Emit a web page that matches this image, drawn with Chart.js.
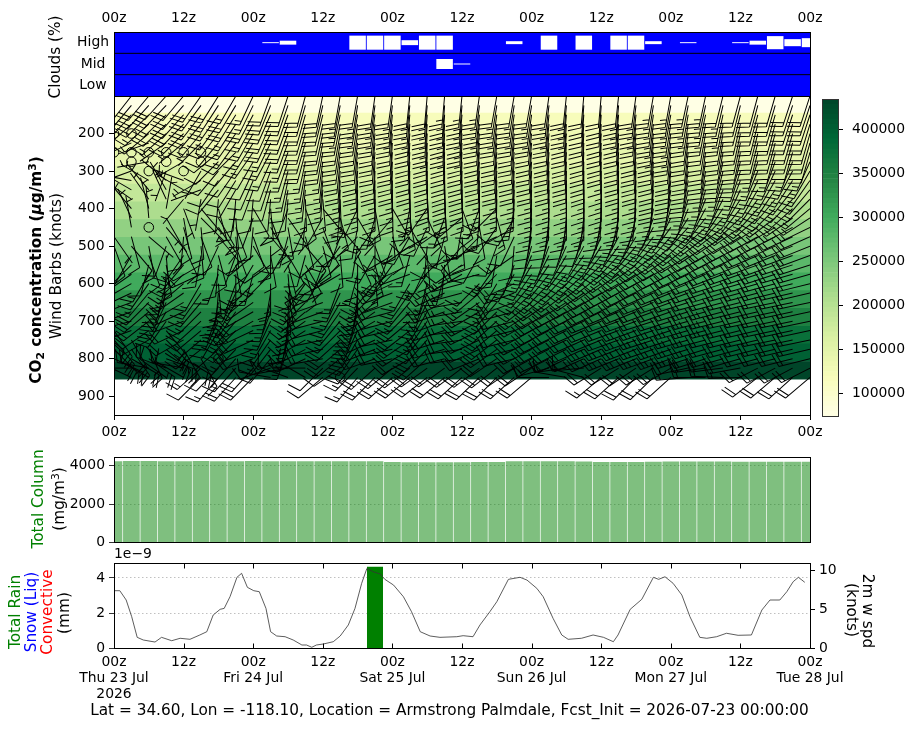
<!DOCTYPE html>
<html lang="en">
<head>
<meta charset="UTF-8">
<title>Meteogram - Armstrong Palmdale</title>
<script src="https://cdn.jsdelivr.net/npm/chart.js"></script>
<style>
  body { margin: 0; background: #fff; }
  #wrap { position: relative; width: 915px; height: 730px; font-family: "DejaVu Sans", sans-serif; color: #000; overflow: hidden; }
  #wrap canvas { position: absolute; }
  .yl, .yr { position: absolute; white-space: nowrap; font-size: 15.3px; line-height: 1; }
  .yl { transform: translate(-50%, -50%) rotate(-90deg); }
  .yr { transform: translate(-50%, -50%) rotate(90deg); }
  .sub { font-size: 70%; vertical-align: -0.25em; }
  .sup { font-size: 70%; vertical-align: 0.5em; }
  .tx { position: absolute; font-size: 13.9px; line-height: 1; white-space: nowrap; }
  .ft { position: absolute; left: 0; width: 899px; text-align: center; font-size: 15.3px; line-height: 1; white-space: nowrap; }
</style>
</head>
<body>
<div id="wrap">
  <canvas id="cClouds" width="915" height="100" style="left:0;top:0"></canvas>
  <canvas id="cMain" width="915" height="360" style="left:0;top:90px"></canvas>
  <canvas id="cBar" width="115" height="340" style="left:800px;top:90px"></canvas>
  <canvas id="cCol" width="915" height="100" style="left:0;top:450px"></canvas>
  <canvas id="cRain" width="915" height="160" style="left:0;top:550px"></canvas>

  <div class="yl" style="left:56px;top:57px">Clouds (%)</div>
  <div class="yl" style="left:37px;top:270px;font-weight:bold">CO<span class="sub">2</span> concentration (<i>μ</i>g/m<span class="sup">3</span>)</div>
  <div class="yl" style="left:57px;top:266px">Wind Barbs (knots)</div>
  <div class="yl" style="left:39px;top:499px;color:#008000">Total Column</div>
  <div class="yl" style="left:59px;top:499px">(mg/m<span class="sup">3</span>)</div>
  <div class="yl" style="left:16px;top:612px;color:#008000">Total Rain</div>
  <div class="yl" style="left:32px;top:612px;color:#0000ff">Snow (Liq)</div>
  <div class="yl" style="left:48px;top:612px;color:#ff0000">Convective</div>
  <div class="yl" style="left:65px;top:613px">(mm)</div>
  <div class="yr" style="left:867px;top:611px">2m w spd</div>
  <div class="yr" style="left:851px;top:610px">(knots)</div>
  <div class="tx" style="left:114px;top:547px">1e−9</div>
  <div class="ft" style="top:703px">Lat = 34.60, Lon = -118.10, Location = Armstrong Palmdale, Fcst_Init = 2026-07-23 00:00:00</div>
</div>

<script>
// ---------- data ----------
// hours since Fcst_Init (2026-07-23 00z), every 3 h
const hours = [0, 3, 6, 9, 12, 15, 18, 21, 24, 27, 30, 33, 36, 39, 42, 45, 48, 51, 54, 57, 60, 63, 66, 69, 72, 75, 78, 81, 84, 87, 90, 93, 96, 99, 102, 105, 108, 111, 114, 117, 120];
const timeTicks = [0, 12, 24, 36, 48, 60, 72, 84, 96, 108, 120];
const hourLabels = ['00z', '12z'];
const dayLabels = ['Thu 23 Jul', 'Fri 24 Jul', 'Sat 25 Jul', 'Sun 26 Jul', 'Mon 27 Jul', 'Tue 28 Jul'];
const yearLabel = '2026';
const cloudRows = ['Low', 'Mid', 'High'];
const presTicks = [200, 300, 400, 500, 600, 700, 800, 900];
const co2Ticks = [100000, 150000, 200000, 250000, 300000, 350000, 400000];
const colTicks = [0, 2000, 4000];
const rainTicks = [0, 2e-9, 4e-9];
const wspdTicks = [0, 5, 10];

// cloud fraction (%)
const cloudHigh = [0, 0, 0, 0, 0, 0, 0, 0, 0, 7, 28, 0, 0, 0, 100, 100, 100, 35, 100, 100, 0, 0, 0, 21, 0, 100, 0, 100, 0, 100, 100, 21, 0, 7, 0, 0, 7, 28, 93, 50, 64];
const cloudMid = [0, 0, 0, 0, 0, 0, 0, 0, 0, 0, 0, 0, 0, 0, 0, 0, 0, 0, 0, 71, 7, 0, 0, 0, 0, 0, 0, 0, 0, 0, 0, 0, 0, 0, 0, 0, 0, 0, 0, 0, 0];
const cloudLow = [0, 0, 0, 0, 0, 0, 0, 0, 0, 0, 0, 0, 0, 0, 0, 0, 0, 0, 0, 0, 0, 0, 0, 0, 0, 0, 0, 0, 0, 0, 0, 0, 0, 0, 0, 0, 0, 0, 0, 0, 0];

// CO2 concentration (ug/m3) by pressure band (hPa)
const co2Pres = [122, 169, 216, 264, 311, 358, 406, 453, 500, 548, 595, 642, 690, 737, 784, 831];
const co2Conc = [74000, 117000, 131000, 146000, 166000, 186000, 209000, 232000, 254000, 278000, 300000, 326000, 351000, 376000, 398000, 434000];

// wind barbs: direction (deg, from) and speed (knots) per level
const barbLevels = [100, 125, 150, 175, 200, 225, 250, 275, 300, 325, 350, 375, 400, 425, 450, 475, 500, 525, 550, 575, 600, 625, 650, 675, 700, 725, 750, 775, 800, 825, 850];
const dir100 = [215, 218, 220, 222, 220, 215, 212, 210, 205, 200, 198, 195, 192, 190, 190, 188, 188, 186, 185, 185, 186, 188, 190, 190, 190, 188, 186, 185, 185, 186, 188, 190, 190, 192, 192, 194, 195, 195, 196, 198, 198];
const spd100 = [18, 18, 20, 20, 20, 18, 18, 17, 17, 18, 18, 20, 20, 22, 22, 22, 22, 22, 22, 24, 24, 24, 22, 22, 22, 22, 22, 20, 20, 22, 22, 24, 24, 24, 24, 22, 22, 22, 20, 20, 20];
const dir125 = [218, 220, 222, 224, 221, 217, 213, 211, 206, 202, 199, 196, 193, 191, 189, 188, 187, 186, 185, 184, 185, 187, 189, 189, 189, 187, 185, 184, 184, 185, 187, 189, 190, 191, 192, 193, 194, 195, 196, 198, 198];
const spd125 = [19, 19, 21, 21, 20, 19, 18, 18, 17, 19, 19, 21, 21, 23, 23, 23, 23, 23, 24, 24, 24, 24, 23, 23, 23, 23, 23, 21, 21, 23, 23, 24, 24, 24, 24, 23, 22, 22, 21, 20, 20];
const dir150 = [220, 222, 225, 225, 222, 218, 215, 212, 208, 204, 200, 196, 194, 192, 190, 188, 186, 185, 184, 184, 185, 186, 188, 188, 188, 186, 185, 184, 184, 185, 186, 188, 190, 190, 192, 192, 194, 195, 196, 198, 198];
const spd150 = [20, 20, 22, 22, 20, 20, 18, 18, 18, 20, 20, 22, 22, 24, 24, 24, 24, 24, 25, 25, 25, 24, 24, 24, 24, 24, 24, 22, 22, 24, 24, 25, 25, 24, 24, 24, 22, 22, 22, 20, 20];
const dir175 = [226, 228, 228, 226, 224, 220, 216, 213, 209, 204, 200, 196, 193, 191, 189, 187, 186, 184, 184, 183, 184, 186, 187, 187, 187, 186, 184, 184, 183, 184, 186, 187, 189, 189, 191, 191, 193, 194, 195, 197, 197];
const spd175 = [10, 12, 16, 18, 18, 18, 17, 17, 17, 19, 19, 21, 21, 23, 23, 23, 23, 23, 24, 24, 24, 23, 23, 23, 23, 23, 23, 22, 21, 23, 23, 24, 24, 23, 23, 23, 22, 21, 21, 20, 20];
const dir200 = [0, 0, 230, 228, 225, 220, 218, 215, 210, 205, 200, 196, 192, 190, 188, 186, 185, 184, 183, 183, 184, 185, 186, 186, 186, 185, 184, 183, 183, 184, 185, 186, 188, 188, 190, 190, 192, 194, 195, 196, 196];
const spd200 = [1, 1, 12, 14, 15, 15, 16, 16, 16, 18, 18, 20, 20, 22, 22, 22, 22, 22, 24, 24, 24, 22, 22, 22, 22, 22, 22, 22, 20, 22, 22, 24, 24, 22, 22, 22, 22, 20, 20, 20, 20];
const dir225 = [240, 245, 250, 235, 230, 225, 220, 216, 212, 206, 200, 196, 191, 189, 187, 186, 184, 183, 182, 182, 183, 184, 185, 186, 185, 184, 183, 182, 182, 183, 184, 185, 187, 188, 189, 190, 192, 194, 195, 196, 196];
const spd225 = [4, 5, 6, 6, 5, 6, 10, 14, 15, 16, 17, 19, 19, 21, 21, 21, 21, 21, 23, 23, 23, 21, 21, 21, 21, 21, 21, 21, 19, 21, 21, 23, 23, 21, 21, 21, 21, 19, 19, 19, 19];
const dir250 = [0, 0, 0, 0, 0, 0, 230, 225, 215, 208, 200, 195, 190, 188, 186, 185, 184, 183, 182, 182, 183, 184, 185, 185, 185, 184, 183, 182, 182, 183, 184, 185, 186, 187, 188, 190, 192, 194, 195, 196, 196];
const spd250 = [1, 1, 1, 1, 1, 1, 8, 12, 14, 15, 16, 18, 18, 20, 20, 20, 20, 20, 22, 22, 22, 20, 20, 20, 20, 20, 20, 20, 18, 20, 20, 22, 22, 20, 20, 20, 20, 18, 18, 18, 18];
const dir275 = [250, 0, 260, 0, 240, 0, 225, 220, 210, 204, 198, 192, 188, 186, 184, 183, 183, 182, 181, 181, 182, 183, 184, 184, 184, 183, 182, 181, 181, 182, 183, 184, 185, 187, 189, 192, 195, 198, 200, 202, 204];
const spd275 = [4, 2, 5, 1, 5, 2, 8, 11, 12, 14, 15, 16, 17, 19, 19, 19, 19, 19, 21, 21, 21, 19, 19, 19, 19, 19, 19, 19, 17, 19, 19, 21, 21, 20, 19, 19, 19, 17, 17, 17, 17];
const dir300 = [240, 250, 0, 200, 0, 210, 220, 215, 205, 200, 195, 190, 186, 184, 183, 182, 182, 181, 180, 180, 181, 182, 183, 183, 183, 182, 181, 180, 180, 181, 182, 183, 185, 188, 190, 194, 198, 202, 205, 208, 210];
const spd300 = [5, 5, 1, 5, 1, 6, 8, 10, 10, 12, 14, 15, 16, 18, 18, 18, 18, 18, 20, 20, 20, 18, 18, 18, 18, 18, 18, 18, 16, 18, 18, 20, 20, 20, 18, 18, 18, 16, 16, 16, 16];
const dir325 = [260, 280, 300, 310, 290, 240, 215, 212, 203, 198, 192, 188, 185, 183, 182, 181, 181, 180, 179, 179, 180, 181, 182, 182, 182, 181, 180, 180, 180, 181, 182, 183, 186, 190, 193, 197, 201, 206, 210, 213, 215];
const spd325 = [5, 5, 4, 5, 4, 6, 8, 10, 10, 12, 13, 14, 15, 17, 17, 17, 17, 17, 19, 19, 19, 17, 17, 17, 17, 17, 17, 17, 16, 17, 17, 19, 19, 19, 17, 17, 17, 16, 16, 16, 16];
const dir350 = [280, 300, 320, 330, 300, 250, 220, 210, 200, 195, 190, 186, 184, 182, 181, 180, 180, 179, 178, 178, 179, 180, 181, 182, 182, 181, 180, 180, 180, 181, 182, 184, 188, 192, 196, 200, 205, 210, 214, 218, 220];
const spd350 = [5, 6, 5, 6, 5, 5, 8, 10, 10, 12, 12, 14, 15, 16, 16, 16, 16, 16, 18, 18, 18, 16, 16, 16, 16, 16, 16, 16, 15, 16, 16, 18, 18, 18, 16, 16, 16, 15, 15, 15, 15];
const dir375 = [290, 305, 325, 335, 220, 190, 185, 185, 185, 185, 185, 178, 175, 178, 180, 180, 179, 178, 176, 177, 178, 180, 181, 182, 182, 181, 180, 180, 181, 182, 184, 187, 192, 197, 202, 207, 212, 216, 220, 223, 225];
const spd375 = [5, 6, 5, 6, 4, 5, 8, 9, 9, 11, 11, 13, 13, 15, 15, 15, 15, 15, 16, 16, 16, 15, 15, 15, 15, 15, 15, 15, 14, 15, 15, 16, 16, 17, 16, 16, 16, 15, 15, 15, 15];
const dir400 = [300, 320, 345, 10, 160, 140, 165, 190, 150, 175, 200, 160, 140, 185, 205, 170, 150, 190, 215, 175, 160, 200, 225, 190, 182, 181, 180, 180, 182, 184, 186, 190, 196, 202, 208, 214, 218, 222, 225, 228, 230];
const spd400 = [6, 6, 5, 6, 5, 6, 8, 8, 8, 10, 10, 12, 12, 14, 14, 14, 14, 14, 15, 15, 15, 14, 14, 14, 14, 14, 14, 14, 13, 14, 14, 15, 15, 16, 16, 16, 16, 16, 15, 15, 15];
const dir425 = [320, 335, 355, 150, 170, 135, 150, 175, 200, 160, 145, 185, 210, 165, 150, 195, 220, 170, 155, 200, 230, 185, 165, 210, 185, 186, 186, 187, 189, 192, 195, 200, 206, 212, 218, 223, 227, 230, 233, 235, 237];
const spd425 = [6, 6, 4, 5, 6, 7, 8, 9, 9, 10, 10, 12, 12, 13, 13, 13, 13, 13, 14, 14, 14, 13, 13, 13, 13, 13, 13, 13, 13, 14, 14, 15, 16, 16, 16, 17, 17, 17, 16, 16, 16];
const dir450 = [335, 350, 0, 140, 165, 175, 145, 160, 185, 150, 170, 205, 160, 140, 190, 215, 175, 150, 205, 235, 190, 170, 215, 240, 188, 190, 192, 194, 196, 200, 204, 210, 216, 222, 228, 232, 235, 238, 240, 242, 244];
const spd450 = [6, 6, 1, 6, 8, 8, 8, 10, 10, 10, 10, 12, 12, 12, 12, 12, 12, 12, 12, 14, 14, 12, 12, 12, 12, 12, 12, 12, 12, 14, 14, 15, 16, 16, 16, 18, 18, 18, 16, 16, 16];
const dir475 = [145, 165, 130, 150, 185, 160, 140, 175, 160, 140, 195, 165, 150, 200, 225, 180, 160, 210, 240, 195, 175, 225, 245, 205, 192, 195, 198, 201, 204, 208, 212, 217, 222, 227, 232, 236, 238, 241, 243, 245, 246];
const spd475 = [7, 8, 6, 8, 10, 10, 10, 11, 11, 11, 10, 11, 11, 12, 12, 12, 12, 12, 12, 13, 13, 12, 12, 12, 12, 12, 12, 12, 13, 14, 14, 15, 16, 17, 17, 18, 19, 19, 17, 17, 17];
const dir500 = [160, 140, 170, 200, 155, 175, 205, 160, 150, 180, 210, 140, 165, 215, 190, 160, 200, 235, 185, 170, 220, 245, 200, 185, 196, 200, 204, 208, 212, 216, 220, 224, 228, 232, 236, 240, 242, 244, 246, 248, 248];
const spd500 = [8, 10, 10, 10, 12, 12, 12, 12, 12, 12, 10, 10, 10, 12, 12, 12, 12, 12, 12, 12, 12, 12, 12, 12, 12, 12, 12, 12, 14, 14, 14, 16, 16, 18, 18, 18, 20, 20, 18, 18, 18];
const dir525 = [185, 210, 160, 175, 215, 190, 165, 200, 230, 170, 150, 195, 225, 175, 155, 210, 240, 195, 175, 225, 250, 210, 190, 235, 203, 207, 211, 215, 219, 223, 227, 231, 234, 237, 240, 243, 245, 247, 248, 250, 250];
const spd525 = [9, 11, 11, 12, 13, 12, 12, 12, 12, 12, 10, 10, 10, 12, 12, 13, 13, 13, 12, 12, 12, 12, 13, 13, 13, 13, 13, 14, 15, 15, 16, 17, 17, 19, 19, 19, 21, 21, 19, 19, 19];
const dir550 = [205, 225, 195, 170, 220, 240, 185, 170, 210, 235, 165, 150, 200, 230, 180, 165, 215, 245, 205, 185, 235, 250, 215, 200, 210, 214, 218, 222, 226, 230, 234, 238, 240, 242, 244, 246, 248, 250, 250, 252, 252];
const spd550 = [10, 12, 12, 14, 14, 12, 12, 12, 12, 12, 10, 10, 10, 12, 12, 14, 14, 14, 12, 12, 12, 12, 14, 14, 14, 14, 14, 16, 16, 16, 18, 18, 18, 20, 20, 20, 22, 22, 20, 20, 20];
const dir575 = [215, 235, 210, 185, 225, 245, 200, 180, 195, 225, 175, 160, 210, 240, 195, 175, 225, 250, 215, 195, 240, 255, 225, 210, 215, 219, 223, 227, 231, 235, 238, 241, 243, 245, 247, 249, 251, 252, 252, 254, 254];
const spd575 = [11, 13, 13, 14, 15, 13, 13, 13, 13, 13, 11, 11, 11, 13, 13, 14, 14, 14, 13, 13, 13, 13, 14, 14, 14, 15, 15, 16, 17, 17, 18, 19, 19, 20, 21, 21, 22, 22, 20, 20, 20];
const dir600 = [220, 240, 215, 195, 230, 210, 175, 200, 225, 180, 165, 215, 240, 200, 180, 220, 245, 210, 195, 240, 255, 225, 210, 245, 220, 224, 228, 232, 236, 240, 242, 244, 246, 248, 250, 252, 254, 254, 255, 256, 256];
const spd600 = [12, 14, 15, 15, 16, 14, 14, 14, 14, 14, 12, 12, 12, 14, 14, 15, 15, 15, 14, 14, 14, 14, 15, 15, 15, 16, 16, 16, 18, 18, 18, 20, 20, 20, 22, 22, 22, 22, 20, 20, 20];
const dir625 = [225, 245, 220, 200, 235, 215, 185, 205, 230, 190, 170, 220, 245, 205, 185, 225, 250, 215, 200, 245, 255, 230, 215, 250, 226, 230, 233, 236, 239, 242, 244, 246, 248, 250, 252, 253, 255, 255, 256, 257, 257];
const spd625 = [14, 15, 16, 16, 17, 15, 15, 15, 15, 14, 13, 13, 13, 14, 15, 15, 15, 15, 14, 14, 14, 15, 15, 15, 15, 17, 17, 17, 19, 19, 19, 20, 20, 21, 22, 22, 22, 21, 20, 20, 20];
const dir650 = [230, 250, 225, 205, 240, 220, 190, 210, 235, 195, 175, 225, 250, 210, 190, 230, 250, 220, 205, 245, 260, 235, 220, 250, 232, 235, 238, 240, 242, 244, 246, 248, 250, 252, 254, 255, 256, 257, 258, 258, 258];
const spd650 = [15, 16, 18, 18, 18, 16, 16, 16, 16, 15, 14, 14, 14, 15, 16, 16, 16, 16, 15, 15, 15, 16, 16, 16, 16, 18, 18, 18, 20, 20, 20, 20, 20, 22, 22, 22, 22, 20, 20, 20, 20];
const dir675 = [235, 250, 230, 210, 245, 225, 200, 215, 240, 200, 180, 230, 250, 215, 195, 235, 255, 225, 210, 250, 260, 240, 225, 255, 236, 238, 241, 243, 245, 247, 248, 250, 251, 253, 254, 255, 256, 257, 258, 258, 258];
const spd675 = [16, 18, 19, 19, 19, 17, 17, 17, 17, 15, 14, 14, 15, 15, 17, 17, 17, 17, 15, 15, 15, 17, 17, 17, 17, 18, 19, 19, 20, 21, 21, 21, 21, 22, 23, 23, 22, 21, 20, 20, 20];
const dir700 = [240, 255, 232, 215, 250, 228, 205, 220, 240, 205, 185, 235, 255, 220, 200, 240, 255, 230, 215, 250, 262, 242, 228, 255, 240, 242, 244, 246, 248, 250, 250, 252, 252, 254, 255, 256, 257, 258, 258, 258, 258];
const spd700 = [18, 20, 20, 20, 20, 18, 18, 18, 18, 16, 15, 15, 16, 16, 18, 18, 18, 18, 16, 16, 16, 18, 18, 18, 18, 18, 20, 20, 20, 22, 22, 22, 22, 22, 24, 24, 22, 22, 20, 20, 20];
const dir725 = [145, 250, 235, 140, 245, 230, 210, 225, 245, 210, 190, 238, 255, 225, 205, 242, 258, 232, 220, 252, 262, 244, 230, 256, 241, 243, 244, 246, 248, 250, 250, 252, 252, 254, 255, 256, 256, 257, 258, 258, 258];
const spd725 = [19, 21, 21, 21, 20, 16, 8, 16, 18, 16, 15, 15, 16, 17, 18, 19, 19, 18, 17, 17, 17, 18, 19, 19, 19, 19, 20, 21, 21, 22, 23, 23, 23, 23, 24, 23, 22, 22, 20, 20, 20];
const dir750 = [140, 150, 240, 135, 240, 230, 0, 225, 245, 215, 195, 240, 258, 228, 210, 245, 258, 235, 222, 252, 262, 245, 232, 256, 242, 244, 245, 246, 248, 250, 250, 252, 252, 254, 255, 256, 256, 257, 258, 258, 258];
const spd750 = [20, 22, 22, 22, 20, 15, 1, 15, 18, 16, 15, 15, 16, 18, 18, 20, 20, 18, 18, 18, 18, 18, 20, 20, 20, 20, 20, 22, 22, 22, 24, 24, 24, 24, 24, 22, 22, 22, 20, 20, 20];
const dir775 = [135, 145, 155, 130, 150, 232, 228, 224, 248, 218, 200, 242, 258, 230, 215, 248, 258, 238, 225, 254, 262, 246, 235, 256, 242, 244, 244, 246, 247, 249, 249, 251, 251, 253, 253, 255, 255, 256, 257, 257, 257];
const spd775 = [20, 22, 23, 23, 21, 15, 6, 15, 18, 16, 15, 15, 16, 18, 19, 21, 21, 19, 19, 19, 19, 19, 21, 21, 21, 21, 21, 22, 23, 23, 24, 24, 24, 24, 23, 22, 22, 21, 20, 20, 20];
const dir800 = [115, 120, 125, 110, 120, 150, 0, 222, 250, 220, 250, 245, 260, 232, 218, 250, 258, 240, 228, 255, 262, 248, 236, 256, 242, 244, 244, 246, 246, 248, 248, 250, 250, 252, 252, 254, 254, 255, 256, 256, 256];
const spd800 = [20, 22, 24, 24, 22, 15, 1, 15, 18, 16, 15, 15, 16, 18, 20, 22, 22, 20, 20, 20, 20, 20, 22, 22, 22, 22, 22, 22, 24, 24, 24, 24, 24, 24, 22, 22, 22, 20, 20, 20, 20];
const dir825 = [260, 270, 280, 290, 280, 228, 224, 222, 222, 250, 260, 270, 225, 235, 224, 228, 230, 232, 234, 234, 233, 233, 232, 235, 236, 255, 262, 265, 238, 238, 236, 238, 239, 258, 262, 263, 260, 243, 242, 242, 243];
const spd825 = [18, 18, 18, 18, 16, 14, 10, 16, 18, 12, 10, 10, 12, 8, 17, 20, 21, 20, 19, 19, 19, 19, 21, 21, 21, 16, 15, 15, 19, 21, 22, 23, 23, 18, 18, 18, 18, 19, 20, 20, 20];
const dir850 = [290, 295, 300, 305, 300, 225, 220, 222, 225, 280, 290, 300, 230, 0, 220, 225, 228, 230, 232, 230, 228, 226, 225, 228, 230, 270, 280, 285, 230, 228, 225, 226, 228, 265, 270, 272, 268, 232, 230, 228, 230];
const spd850 = [15, 15, 12, 12, 10, 12, 15, 18, 18, 10, 8, 8, 10, 1, 15, 18, 20, 20, 18, 18, 18, 18, 20, 20, 20, 12, 10, 10, 15, 18, 20, 22, 22, 15, 15, 15, 16, 18, 20, 20, 20];
const barbDirs = [dir100, dir125, dir150, dir175, dir200, dir225, dir250, dir275, dir300, dir325, dir350, dir375, dir400, dir425, dir450, dir475, dir500, dir525, dir550, dir575, dir600, dir625, dir650, dir675, dir700, dir725, dir750, dir775, dir800, dir825, dir850];
const barbSpds = [spd100, spd125, spd150, spd175, spd200, spd225, spd250, spd275, spd300, spd325, spd350, spd375, spd400, spd425, spd450, spd475, spd500, spd525, spd550, spd575, spd600, spd625, spd650, spd675, spd700, spd725, spd750, spd775, spd800, spd825, spd850];

// total column (mg/m3)
const totalColumn = [4240, 4245, 4245, 4240, 4240, 4245, 4240, 4240, 4245, 4240, 4240, 4235, 4240, 4240, 4235, 4235, 4190, 4185, 4185, 4180, 4185, 4190, 4190, 4230, 4230, 4235, 4230, 4225, 4200, 4195, 4200, 4205, 4220, 4225, 4220, 4215, 4210, 4210, 4205, 4210, 4210];

// total rain (mm)
const totalRain = [0, 0, 0, 0, 0, 0, 0, 0, 0, 0, 0, 0, 0, 0, 0, 4.63e-9, 0, 0, 0, 0, 0, 0, 0, 0, 0, 0, 0, 0, 0, 0, 0, 0, 0, 0, 0, 0, 0, 0, 0, 0, 0];

// 2 m wind speed (knots)
const wspdHours = [0, 1, 2.1, 3.05, 4, 5.05, 7.07, 8.2, 9.95, 11.4, 13.1, 14.8, 16, 17.1, 18.3, 19, 20, 21.2, 22, 23, 24.1, 25.05, 26.2, 27, 28.05, 29.5, 30.9, 32.4, 33.2, 34.1, 34.9, 36.1, 37.8, 39, 40.4, 41.55, 42.7, 43.6, 44.7, 45.9, 46.7, 48.2, 49.9, 51.3, 52.8, 54.5, 56.2, 59.1, 60.2, 61.9, 63.1, 64.8, 66, 68, 70, 71.2, 72.9, 74, 75.7, 77.2, 78.3, 80.6, 82.6, 84.4, 86.1, 86.9, 89, 91, 93, 93.9, 95, 96.4, 97.9, 99.3, 101, 102.2, 103.9, 105.6, 107.6, 109.9, 111.7, 113.1, 114.8, 116, 117.1, 118, 119.1];
const wspdKnots = [7.36, 7.36, 6.17, 4.04, 1.40, 1.06, 0.80, 1.40, 0.97, 1.28, 1.15, 1.70, 2.12, 4.25, 4.98, 5.1, 6.59, 9.07, 9.58, 7.79, 7.36, 7.23, 5.1, 2.12, 1.57, 1.48, 1.06, 0.42, 0.42, 0.13, 0.42, 0.55, 0.84, 1.57, 2.98, 5.1, 8.30, 10.2, 9.78, 9.49, 8.81, 8.08, 6.59, 4.67, 2.12, 1.57, 1.40, 1.48, 1.61, 1.48, 2.98, 4.67, 5.95, 8.81, 9.07, 8.72, 7.66, 6.59, 3.83, 1.70, 1.15, 1.28, 1.70, 1.40, 0.84, 1.70, 4.98, 6.26, 9.07, 8.81, 9.14, 8.30, 6.81, 4.04, 1.40, 1.28, 1.48, 1.92, 1.66, 1.70, 4.89, 6.17, 6.17, 7.23, 8.51, 9.07, 8.43];

// ---------- helpers ----------
Chart.defaults.font.family = 'DejaVu Sans';
Chart.defaults.font.size = 13.9;
Chart.defaults.color = '#000';

const baseOpts = {
  responsive: false,
  animation: false,
  devicePixelRatio: 1,
  events: [],
};
const noLegend = { legend: { display: false }, tooltip: { enabled: false } };

function hourLabel(v) {
  return hourLabels[(v % 24) / 12];
}
const plain = v => String(v);
const setTicks = list => s => { s.ticks = list.map(v => ({ value: v })); };
// fixed axis sizes so every panel lines up, no extra label padding
const fixW = w => s => { s.width = w; s.paddingTop = 0; s.paddingBottom = 0; };
const fixH = h => s => { s.height = h; s.paddingLeft = 0; s.paddingRight = 0; };

// YlGn colormap
const ylgn = ['#ffffe5', '#f7fcb9', '#d9f0a3', '#addd8e', '#78c679', '#41ab5d', '#238443', '#006837', '#004529'];
function cmap(f) {
  f = Math.max(0, Math.min(1, f)) * (ylgn.length - 1);
  const i = Math.min(Math.floor(f), ylgn.length - 2), r = f - i;
  const a = ylgn[i], b = ylgn[i + 1];
  const c = k => Math.round(parseInt(a.substr(k, 2), 16) * (1 - r) + parseInt(b.substr(k, 2), 16) * r);
  return 'rgb(' + c(1) + ',' + c(3) + ',' + c(5) + ')';
}
const vmin = Math.min(...co2Conc), vmax = Math.max(...co2Conc);
const co2Color = v => cmap((v - vmin) / (vmax - vmin));

// background fill + black frame around the plot area (+ optional inward x ticks)
const framePlugin = {
  id: 'frame',
  beforeDraw(chart, args, opts) {
    if (!opts.fill) return;
    const a = chart.chartArea, ctx = chart.ctx;
    ctx.save();
    ctx.fillStyle = opts.fill;
    ctx.fillRect(a.left, a.top, a.right - a.left, a.bottom - a.top);
    ctx.restore();
  },
  afterDraw(chart, args, opts) {
    const a = chart.chartArea, ctx = chart.ctx;
    const l = Math.floor(a.left) + 0.5, t = Math.floor(a.top) + 0.5;
    const r = Math.floor(a.right) + 0.5, b = Math.floor(a.bottom) + 0.5;
    ctx.save();
    ctx.strokeStyle = opts.color || '#000';
    ctx.lineWidth = 1;
    ctx.strokeRect(l, t, r - l, b - t);
    if (opts.innerXTicks) {
      const xs = chart.scales.x;
      ctx.beginPath();
      xs.ticks.forEach(tk => {
        const px = Math.round(xs.getPixelForValue(tk.value)) + 0.5;
        ctx.moveTo(px, b); ctx.lineTo(px, b - 5);
        ctx.moveTo(px, t); ctx.lineTo(px, t + 5);
      });
      ctx.stroke();
    }
    ctx.restore();
  }
};

// ---------- clouds ----------
const boxScale = 0.33 / 100;
function cloudBoxes(pcts, row) {
  const c = cloudRows.indexOf(row) + 0.5;
  return hours.map((t, i) => pcts[i] > 0 ? { x: t, y: [c - pcts[i] * boxScale, c + pcts[i] * boxScale] } : null).filter(Boolean);
}
const cloudBarStyle = { type: 'bar', backgroundColor: '#fff', borderWidth: 0, grouped: false, barPercentage: 0.95, categoryPercentage: 1 };

new Chart(document.getElementById('cClouds'), {
  type: 'bar',
  data: {
    datasets: [
      Object.assign({ data: cloudBoxes(cloudHigh, 'High') }, cloudBarStyle),
      Object.assign({ data: cloudBoxes(cloudMid, 'Mid') }, cloudBarStyle),
      Object.assign({ data: cloudBoxes(cloudLow, 'Low') }, cloudBarStyle),
      { type: 'line', data: [{ x: 0, y: 1 }, { x: 120, y: 1 }], borderColor: '#000', borderWidth: 1, pointRadius: 0 },
      { type: 'line', data: [{ x: 0, y: 2 }, { x: 120, y: 2 }], borderColor: '#000', borderWidth: 1, pointRadius: 0 }
    ]
  },
  options: Object.assign({}, baseOpts, {
    layout: { padding: { left: 0, right: 105, top: 0, bottom: 4 } },
    scales: {
      x: {
        type: 'linear', position: 'top', min: 0, max: 120, offset: false,
        afterBuildTicks: setTicks(timeTicks),
        ticks: { callback: hourLabel, padding: 5.5, maxRotation: 0, autoSkip: false },
        grid: { display: false, drawTicks: false, offset: false },
        border: { display: false },
        afterFit: fixH(32)
      },
      y: {
        type: 'linear', min: 0, max: 3,
        afterBuildTicks: setTicks([0.5, 1.5, 2.5]),
        ticks: { callback: v => cloudRows[Math.floor(v)], crossAlign: 'center', padding: 5, autoSkip: false },
        grid: { display: false, drawTicks: false },
        border: { display: false },
        afterFit: fixW(114)
      }
    },
    plugins: Object.assign({ frame: { fill: '#0000ff' } }, noLegend)
  }),
  plugins: [framePlugin]
});

// ---------- CO2 + wind barbs ----------
const barbPoints = [];
barbLevels.forEach((p, k) => {
  hours.forEach((t, i) => barbPoints.push({ x: t, y: p, d: barbDirs[k][i], s: barbSpds[k][i] }));
});

const barbLen = 32;
function drawBarb(ctx, x, y, dir, spd) {
  const L = barbLen, H = 0.4 * L, W = 0.25 * L, SP = 0.125 * L;
  const mag = Math.round(spd / 5) * 5;
  if (mag < 5) {
    ctx.beginPath();
    ctx.arc(x, y, 0.15 * L, 0, 2 * Math.PI);
    ctx.stroke();
    return;
  }
  const nFlag = Math.floor(mag / 50);
  const nFull = Math.floor((mag - nFlag * 50) / 10);
  const half = (mag - nFlag * 50 - nFull * 10) >= 5;
  ctx.save();
  ctx.translate(x, y);
  ctx.rotate(dir * Math.PI / 180);
  ctx.beginPath();
  ctx.moveTo(0, 0);
  ctx.lineTo(0, -L);
  let off = L;
  for (let i = 0; i < nFlag; i++) {
    ctx.moveTo(0, -off);
    ctx.lineTo(H, -(off - W / 2));
    ctx.lineTo(0, -(off - W));
    off -= W + SP;
  }
  for (let i = 0; i < nFull; i++) {
    ctx.moveTo(0, -off);
    ctx.lineTo(H, -(off + W / 2));
    off -= SP;
  }
  if (half) {
    if (off === L) off -= 1.5 * SP;
    ctx.moveTo(0, -off);
    ctx.lineTo(H / 2, -(off + W / 4));
  }
  ctx.stroke();
  ctx.restore();
}

const barbPlugin = {
  id: 'barbs',
  afterDatasetsDraw(chart) {
    const meta = chart.getDatasetMeta(1);
    const a = chart.chartArea, ctx = chart.ctx;
    ctx.save();
    ctx.beginPath();
    ctx.rect(a.left, a.top, a.right - a.left, a.bottom - a.top);
    ctx.clip();
    ctx.strokeStyle = '#000';
    ctx.lineWidth = 1;
    meta.data.forEach((el, i) => {
      const r = barbPoints[i];
      drawBarb(ctx, el.x, el.y, r.d, r.s);
    });
    ctx.restore();
  }
};

new Chart(document.getElementById('cMain'), {
  type: 'bar',
  data: {
    datasets: [
      {
        type: 'bar', indexAxis: 'y',
        data: co2Pres.map(p => ({ y: p, x: [0, 120] })),
        backgroundColor: co2Conc.map(co2Color),
        barThickness: 'flex', barPercentage: 1, categoryPercentage: 1, borderWidth: 0,
        order: 2
      },
      { type: 'scatter', data: barbPoints, pointRadius: 0, order: 1 }
    ]
  },
  options: Object.assign({}, baseOpts, {
    layout: { padding: { left: 0, right: 105, top: 6, bottom: 0 } },
    scales: {
      x: {
        type: 'linear', min: 0, max: 120, offset: false,
        afterBuildTicks: setTicks(timeTicks),
        ticks: { callback: hourLabel, padding: 4.5, maxRotation: 0, autoSkip: false },
        grid: { drawOnChartArea: false, color: '#000', tickLength: 5, offset: false },
        border: { display: false },
        afterFit: fixH(35)
      },
      y: {
        type: 'linear', reverse: true, min: 100, max: 950, offset: false,
        afterBuildTicks: setTicks(presTicks),
        ticks: { padding: 4.5, autoSkip: false, callback: plain },
        grid: { drawOnChartArea: false, color: '#000', tickLength: 5, offset: false },
        border: { display: false },
        afterFit: fixW(114)
      }
    },
    plugins: Object.assign({ frame: {} }, noLegend)
  }),
  plugins: [framePlugin, barbPlugin]
});

// ---------- colorbar ----------
const cbSteps = [];
const cbN = 64;
for (let k = 0; k < cbN; k++) {
  const lo = vmin + (vmax - vmin) * k / cbN, hi = vmin + (vmax - vmin) * (k + 1) / cbN;
  cbSteps.push({ data: [[lo, hi]], backgroundColor: co2Color((lo + hi) / 2), borderWidth: 0, grouped: false, barPercentage: 1, categoryPercentage: 1 });
}
new Chart(document.getElementById('cBar'), {
  type: 'bar',
  data: { labels: [''], datasets: cbSteps },
  options: Object.assign({}, baseOpts, {
    layout: { padding: { left: 22, right: 0, top: 9.3, bottom: 14 } },
    scales: {
      x: { display: false },
      y: {
        position: 'right', min: vmin, max: vmax,
        afterBuildTicks: setTicks(co2Ticks),
        ticks: { padding: 9, autoSkip: false, callback: plain },
        grid: { drawOnChartArea: false, color: '#000', tickLength: 5 },
        border: { display: false },
        afterFit: fixW(77)
      }
    },
    plugins: Object.assign({ frame: { color: '#333' } }, noLegend)
  }),
  plugins: [framePlugin]
});

// ---------- total column ----------
new Chart(document.getElementById('cCol'), {
  type: 'bar',
  data: {
    datasets: [{
      data: hours.map((t, i) => ({ x: t, y: totalColumn[i] })),
      backgroundColor: 'rgba(0,128,0,0.5)', borderWidth: 0,
      barPercentage: 0.96, categoryPercentage: 1
    }]
  },
  options: Object.assign({}, baseOpts, {
    layout: { padding: { left: 0, right: 105, top: 7.3, bottom: 7.7 } },
    scales: {
      x: { type: 'linear', min: 0, max: 120, offset: false, display: false, afterBuildTicks: setTicks(timeTicks), grid: { offset: false } },
      y: {
        type: 'linear', min: 0, max: 4440,
        afterBuildTicks: setTicks(colTicks),
        ticks: { padding: 4, autoSkip: false, callback: plain },
        grid: { color: '#b0b0b0', lineWidth: 0.8, tickColor: '#000', tickLength: 5, tickBorderDash: [] },
        border: { display: false, dash: [1.5, 2.5] },
        afterFit: fixW(114)
      }
    },
    plugins: Object.assign({ frame: {} }, noLegend)
  }),
  plugins: [framePlugin]
});

// ---------- rain + 2 m wind ----------
new Chart(document.getElementById('cRain'), {
  type: 'bar',
  data: {
    datasets: [
      {
        type: 'line', yAxisID: 'y1',
        data: wspdHours.map((t, i) => ({ x: t, y: wspdKnots[i] })),
        borderColor: '#333', borderWidth: 0.8, pointRadius: 0, tension: 0, order: 0
      },
      {
        type: 'bar', yAxisID: 'y',
        data: hours.map((t, i) => ({ x: t, y: totalRain[i] })),
        backgroundColor: '#008000', borderWidth: 0,
        barPercentage: 0.92, categoryPercentage: 1, order: 1
      }
    ]
  },
  options: Object.assign({}, baseOpts, {
    layout: { padding: { left: 0, right: 0, top: 13.3, bottom: 0 } },
    scales: {
      x: {
        type: 'linear', min: 0, max: 120, offset: false,
        afterBuildTicks: setTicks(timeTicks),
        ticks: {
          padding: 6.4, maxRotation: 0, autoSkip: false,
          font: { lineHeight: 1.15 },
          callback: v => {
            if (v % 24 !== 0) return hourLabel(v);
            const lines = [hourLabel(v), dayLabels[v / 24]];
            if (v === 0) lines.push(yearLabel);
            return lines;
          }
        },
        grid: { display: false, drawTicks: false, offset: false },
        border: { display: false },
        afterFit: fixH(61.7)
      },
      y: {
        type: 'linear', min: 0, max: 4.83e-9,
        afterBuildTicks: setTicks(rainTicks),
        ticks: { padding: 4, autoSkip: false, callback: v => String(Math.round(v * 1e9)) },
        grid: { color: '#b0b0b0', lineWidth: 0.8, tickColor: '#000', tickLength: 5, tickBorderDash: [] },
        border: { display: false, dash: [1.5, 2.5] },
        afterFit: fixW(114)
      },
      y1: {
        type: 'linear', position: 'right', min: 0, max: 10.86,
        afterBuildTicks: setTicks(wspdTicks),
        ticks: { padding: 4, autoSkip: false, callback: plain },
        grid: { drawOnChartArea: false, color: '#000', tickLength: 5 },
        border: { display: false },
        afterFit: fixW(105)
      }
    },
    plugins: Object.assign({ frame: { innerXTicks: true } }, noLegend)
  }),
  plugins: [framePlugin]
});
</script>
</body>
</html>
